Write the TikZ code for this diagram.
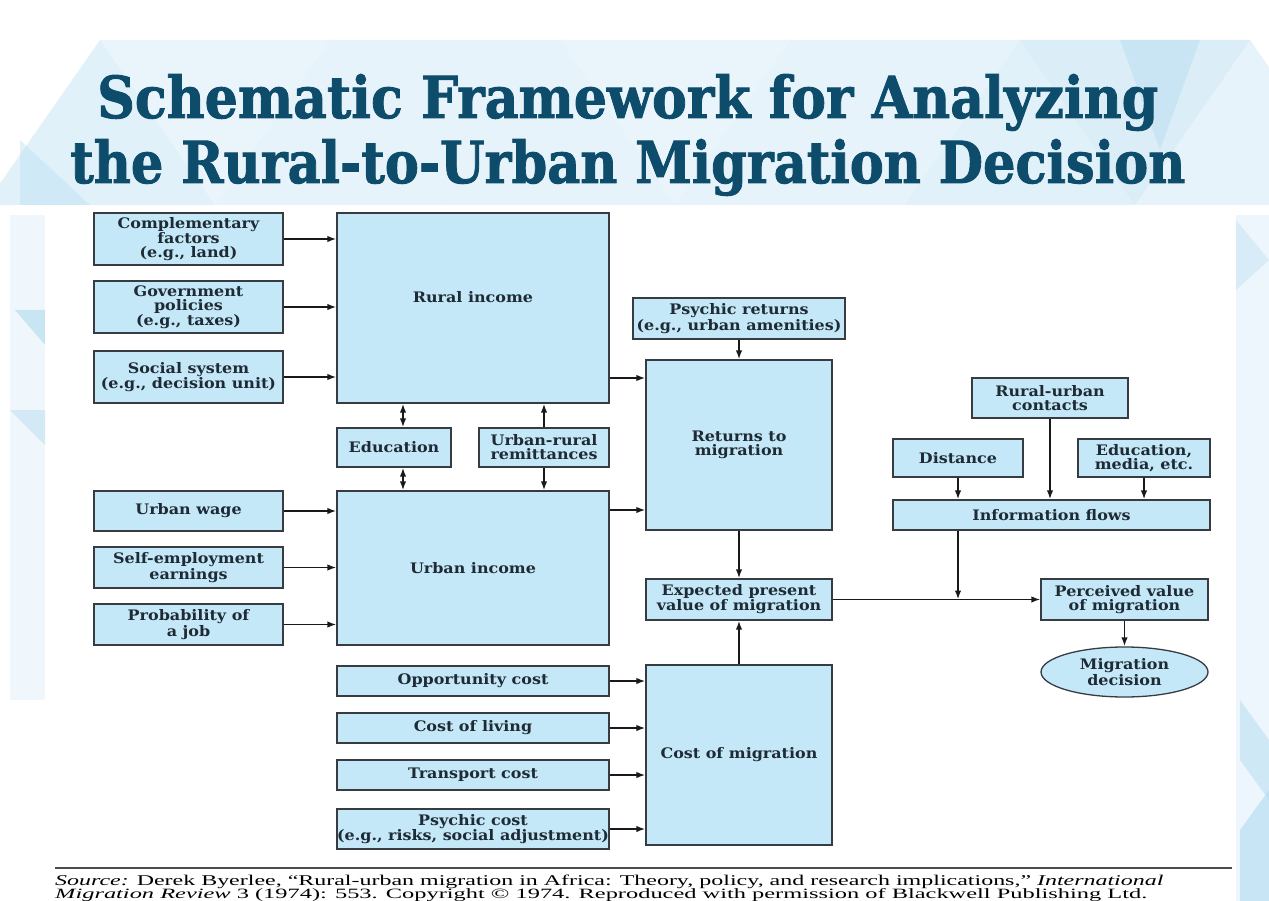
\documentclass[tikz,border=0pt]{standalone}
\usepackage{fontspec}
\usetikzlibrary{arrows.meta,shapes.geometric,calc}
\setmainfont{Liberation Serif}
\newfontfamily\boxfont[FakeStretch=1.1]{DejaVu Serif}
\newfontfamily\headfont[BoldFeatures={FakeBold=1.6}]{DejaVu Serif}

\definecolor{boxfill}{RGB}{196,232,248}
\definecolor{boxline}{RGB}{55,60,66}
\definecolor{boxtext}{RGB}{30,42,52}
\definecolor{titleblue}{RGB}{14,76,108}
\definecolor{bgl}{RGB}{226,241,250}
\definecolor{bgm}{RGB}{206,232,246}
\definecolor{bgd}{RGB}{184,222,242}

\tikzset{
  box/.style={draw=boxline, line width=1.3pt, fill=boxfill, inner sep=0pt,
    align=center, text=boxtext,
    font=\boxfont\bfseries\fontsize{14.5}{14}\selectfont},
  oval/.style={box, ellipse},
  tip/.tip={Latex[length=9pt,width=6.5pt]},
  arr/.style={draw=black!90, line width=1.6pt, -tip},
  dbl/.style={draw=black!90, line width=1.8pt, tip-tip},
}

\begin{document}
\begin{tikzpicture}[x=1pt,y=-1pt]
\useasboundingbox (0,0) rectangle (1269,901);
\fill[white] (0,0) rectangle (1269,901);

% soft geometric backdrop
\begin{scope}
  \foreach \c/\col/\op in {100/bgm/0.6, 330/bgl/0.8, 560/bgm/0.5, 790/bgl/0.8, 1020/bgm/0.6, 1250/bgl/0.8}
    \fill[\col, opacity=\op] (\c,40) -- (\c+115,205) -- (\c-115,205) -- cycle;
  \foreach \c/\col/\op in {215/bgl/0.7, 445/bgm/0.5, 675/bgl/0.7, 905/bgm/0.5, 1135/bgd/0.5}
    \fill[\col, opacity=\op] (\c-115,40) -- (\c+115,40) -- (\c,205) -- cycle;
  \fill[bgd, opacity=0.5] (1120,40) -- (1200,40) -- (1160,150) -- cycle;
  \fill[bgd, opacity=0.4] (20,140) -- (90,205) -- (20,205) -- cycle;
  \fill[bgl, opacity=0.5] (10,215) rectangle (45,700);
  \fill[bgd, opacity=0.7] (15,310) -- (45,310) -- (45,345) -- cycle;
  \fill[bgd, opacity=0.5] (10,410) -- (45,410) -- (45,445) -- cycle;
  \fill[bgl, opacity=0.6] (1236,215) rectangle (1269,901);
  \fill[bgm] (1240,700) -- (1269,740) -- (1269,800) -- (1240,760) -- cycle;
  \fill[bgd, opacity=0.7] (1240,830) -- (1269,790) -- (1269,901) -- (1240,901) -- cycle;
  \fill[bgm, opacity=0.7] (1236,220) -- (1269,260) -- (1236,290) -- cycle;
\end{scope}

% title
\node[anchor=base west, inner sep=0pt, text=titleblue] (title1) at (97,118)
  {\resizebox{1061pt}{44pt}{\headfont\bfseries Schematic Framework for Analyzing}};
\node[anchor=base west, inner sep=0pt, text=titleblue] (title2) at (70,183)
  {\resizebox{1115pt}{44pt}{\headfont\bfseries the Rural-to-Urban Migration Decision}};

% rural-side inputs
\node[box, minimum width=189pt, minimum height=52pt] (comp) at (188.5,239) {Complementary\\factors\\(e.g., land)};
\node[box, minimum width=189pt, minimum height=52pt] (gov)  at (188.5,307) {Government\\policies\\(e.g., taxes)};
\node[box, minimum width=189pt, minimum height=52pt] (soc)  at (188.5,377) {Social system\\(e.g., decision unit)};

% urban-side inputs
\node[box, minimum width=189pt, minimum height=40pt] (wage) at (188.5,511) {Urban wage};
\node[box, minimum width=189pt, minimum height=41pt] (self) at (188.5,567.5) {Self-employment\\earnings};
\node[box, minimum width=189pt, minimum height=41pt] (prob) at (188.5,624.5) {Probability of\\a job};

% incomes
\node[box, minimum width=272pt, minimum height=190pt] (rural) at (473,308)
  {\raisebox{9pt}[0.75em][0.25em]{Rural income}};
\node[box, minimum width=114pt, minimum height=39pt] (educ)  at (394,447.5) {Education};
\node[box, minimum width=130pt, minimum height=39pt] (remit) at (544,447.5) {Urban-rural\\remittances};
\node[box, minimum width=272pt, minimum height=154pt] (urban) at (473,568) {Urban income};

% cost inputs
\node[box, minimum width=272pt, minimum height=30pt] (opp)   at (473,681) {Opportunity cost};
\node[box, minimum width=272pt, minimum height=30pt] (live)  at (473,728) {Cost of living};
\node[box, minimum width=272pt, minimum height=30pt] (trans) at (473,775) {Transport cost};
\node[box, minimum width=272pt, minimum height=40pt] (pcost) at (473,829) {Psychic cost\\(e.g., risks, social adjustment)};

% returns and costs
\node[box, minimum width=212pt, minimum height=41pt]  (pret)  at (739,318.5) {Psychic returns\\(e.g., urban amenities)};
\node[box, minimum width=186pt, minimum height=170pt] (ret)   at (739,445) {Returns to\\migration};
\node[box, minimum width=186pt, minimum height=41pt]  (epv)   at (739,599.5) {Expected present\\value of migration};
\node[box, minimum width=186pt, minimum height=180pt] (costm) at (739,755) {Cost of migration};

% information
\node[box, minimum width=156pt, minimum height=40pt] (cont) at (1050,398) {Rural-urban\\contacts};
\node[box, minimum width=130pt, minimum height=38pt] (dist) at (958,458) {Distance};
\node[box, minimum width=132pt, minimum height=38pt] (media) at (1144,458) {Education,\\media, etc.};
\node[box, minimum width=317pt, minimum height=30pt] (info) at (1051.5,515) {Information flows};
\node[box, minimum width=167pt, minimum height=41pt] (perc) at (1124.5,599.5) {Perceived value\\of migration};
\node[oval, minimum width=167pt, minimum height=50pt] (dec) at (1124.5,672) {Migration\\decision};

% connectors into incomes
\draw[arr] (comp.east) -- (comp.east -| rural.west);
\draw[arr] (gov.east)  -- (gov.east -| rural.west);
\draw[arr] (soc.east)  -- (soc.east -| rural.west);
\draw[arr] (wage.east) -- (wage.east -| urban.west);
\draw[arr] (self.east) -- (self.east -| urban.west);
\draw[arr] (prob.east) -- (prob.east -| urban.west);

\draw[dbl] (rural.south -| 403,0) -- (educ.north -| 403,0);
\draw[dbl] (educ.south -| 403,0) -- (urban.north -| 403,0);
\draw[arr, line width=1.8pt] (remit.north) -- (remit.north |- rural.south);
\draw[arr, line width=1.8pt] (remit.south) -- (remit.south |- urban.north);

% incomes to returns
\draw[arr] (rural.east |- 0,378) -- (ret.west |- 0,378);
\draw[arr] (urban.east |- 0,510) -- (ret.west |- 0,510);
\draw[arr] (pret.south) -- (ret.north);
\draw[arr, line width=1.8pt] (ret.south) -- (epv.north);
\draw[arr, line width=1.8pt] (costm.north) -- (epv.south);

% cost inputs
\draw[arr] (opp.east)   -- (opp.east -| costm.west);
\draw[arr] (live.east)  -- (live.east -| costm.west);
\draw[arr] (trans.east) -- (trans.east -| costm.west);
\draw[arr] (pcost.east) -- (pcost.east -| costm.west);

% information flows
\draw[arr] (dist.south)  -- (dist.south |- info.north);
\draw[arr, line width=1.8pt] (cont.south)  -- (cont.south |- info.north);
\draw[arr] (media.south) -- (media.south |- info.north);
\draw[arr, line width=1.8pt] (info.south -| dist.south) -- (dist.south |- epv.east);
\draw[arr] (epv.east) -- (perc.west);
\draw[arr, line width=1.8pt] (perc.south) -- (dec.north);

% source note
\draw[draw=black!70, line width=1.2pt] (55,868) -- (1232,868);
\node[anchor=base west, inner sep=0pt] (src1) at (55,885)
  {\resizebox{1108pt}{10.5pt}{\itshape Source:\upshape{} Derek Byerlee, “Rural-urban migration in Africa: Theory, policy, and research implications,” \itshape International}};
\node[anchor=base west, inner sep=0pt] (src2) at (55,898)
  {\resizebox{1092pt}{10pt}{\itshape Migration Review\upshape{} 3 (1974): 553. Copyright © 1974. Reproduced with permission of Blackwell Publishing Ltd.}};
\end{tikzpicture}
\end{document}
